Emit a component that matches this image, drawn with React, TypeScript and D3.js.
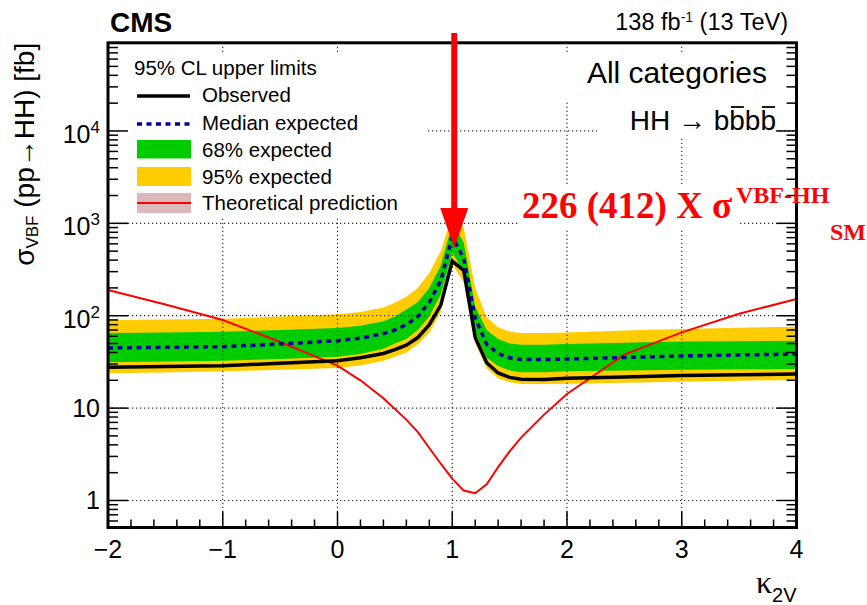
import React from "react";
import * as d3 from "d3";

// kappa_2V scan points
const kappa = [-2, -1.5, -1, -0.5, 0, 0.2, 0.4, 0.5, 0.6, 0.7, 0.8, 0.9, 1.0, 1.1, 1.2, 1.3, 1.4, 1.5, 1.6, 1.8, 2.0, 2.5, 3.0, 3.5, 4.0];

// SM VBF HH cross section [fb] and the limits at kappa_2V = 1 in units of it
const SIGMA_SM = 1.726;
const OBS_MULT = 226;
const EXP_MULT = 412;

const observed = [27.6, 28.2, 28.8, 30.5, 32.6, 35, 39, 43, 48, 58, 80, 130, OBS_MULT * SIGMA_SM, 310, 58, 31, 24, 21.5, 20.5, 20.4, 21, 21.7, 22.5, 23, 23.4];
const expected = [44.8, 45.5, 46.2, 49.4, 53.7, 57, 64, 70, 80, 98, 140, 240, EXP_MULT * SIGMA_SM, 420, 95, 49, 39, 35, 33.5, 33.5, 34, 35.3, 36.7, 37.6, 38.5];
const band68Lo = [31.3, 32, 32.5, 34, 36, 38.5, 44, 50, 56, 70, 98, 170, 480, 300, 66, 35, 28.5, 25.5, 24.5, 24.5, 25, 25.5, 26, 26.3, 26.5];
const band68Hi = [65, 66, 67, 70, 73.6, 78, 87, 98, 117, 140, 200, 350, 1000, 620, 125, 70, 56, 50, 48.5, 48.5, 49.4, 51, 52.5, 53, 53.7];
const band95Lo = [23.8, 24.3, 25, 26, 27.2, 29, 32.5, 36, 40, 49, 66, 110, 360, 230, 50, 27, 21, 19, 18.2, 18.2, 18.3, 18.8, 19.3, 19.8, 20.2];
const band95Hi = [89.8, 91, 93, 98, 104, 110, 123, 138, 160, 200, 290, 500, 1250, 900, 200, 96, 75, 67, 65, 65, 66, 69, 72, 74, 76];
const theory = [190, 132, 90, 52, 28.8, 20, 12.8, 9.8, 7.5, 5.5, 3.7, 2.5, SIGMA_SM, 1.28, 1.2, 1.5, 2.3, 3.4, 4.8, 8.5, 14.2, 38, 66, 105, 152];

const xTicks = [-2, -1, 0, 1, 2, 3, 4];
const xTickLabels = ["\u22122", "\u22121", "0", "1", "2", "3", "4"];
const yDecades = [1, 10, 100, 1000, 10000];
const yTickBase = ["1", "10", "10", "10", "10"];
const yTickExp = ["", "", "2", "3", "4"];

const legendTitle = "95% CL upper limits";
const legendLabels = ["Observed", "Median expected", "68% expected", "95% expected", "Theoretical prediction"];

const GREEN = "#00cc00";
const YELLOW = "#ffcc00";
const BLUE = "#000099";
const RED = "#ff0000";
const SANS = "'Liberation Sans', Arial, Helvetica, sans-serif";
const SERIF = "'Liberation Serif', 'Times New Roman', serif";

export default function App() {
  const W = 867;
  const H = 605;
  const L = 108, R = 796.5, T = 42.8, B = 527.5;

  const x = d3.scaleLinear().domain([-2, 4]).range([L, R]);
  const y = d3.scaleLog().domain([0.51, 9e4]).range([B, T]);

  const idx = kappa.map((_, i) => i);
  const area = (lo: number[], hi: number[]) =>
    d3.area<number>().x((i) => x(kappa[i])).y0((i) => y(lo[i])).y1((i) => y(hi[i]))(idx) || "";
  const line = (v: number[]) => d3.line<number>().x((i) => x(kappa[i])).y((i) => y(v[i]))(idx) || "";

  // minor ticks
  const xMinor: number[] = [];
  for (let k = -20; k <= 40; k += 2) {
    if (k % 10 !== 0) xMinor.push(k / 10);
  }
  const yMinor: number[] = [];
  for (let e = -1; e <= 4; e++) {
    for (let m = 2; m <= 9; m++) {
      const v = m * Math.pow(10, e);
      if (v > 0.51 && v < 9e4) yMinor.push(v);
    }
  }

  const gridStyle = { stroke: "#333", strokeWidth: 1.2, strokeDasharray: "1.3,2.7" };

  const legX0 = 137, legX1 = 191;
  const legRowY = [96, 124, 149, 176.5, 203];
  const legTextY = [102, 129.5, 156.5, 183.5, 210];

  const arrowX = x(1) + 2;

  // decay label: "HH → b b̄ b b̄", right aligned; bars over the 2nd and 4th b
  const hhSize = 28;
  const hhRight = 776;
  const bW = 0.556 * hhSize;
  const barXs = [hhRight - 3 * bW, hhRight - bW];

  return (
    <svg width={W} height={H} style={{ display: "block", position: "absolute", left: 0, top: 0 }}>
      <rect x={0} y={0} width={W} height={H} fill="#fff" />

      {/* uncertainty bands */}
      <path d={area(band95Lo, band95Hi)} fill={YELLOW} />
      <path d={area(band68Lo, band68Hi)} fill={GREEN} />

      {/* grid */}
      {xTicks.slice(1, -1).map((t) => (
        <line key={"gx" + t} x1={x(t)} x2={x(t)} y1={T} y2={B} {...gridStyle} />
      ))}
      {yDecades.map((t) => (
        <line key={"gy" + t} x1={L} x2={R} y1={y(t)} y2={y(t)} {...gridStyle} />
      ))}

      {/* curves */}
      <path d={line(theory)} fill="none" stroke={RED} strokeWidth={2} />
      <path d={line(observed)} fill="none" stroke="#000" strokeWidth={3.5} strokeLinejoin="miter" />
      <path d={line(expected)} fill="none" stroke={BLUE} strokeWidth={3.5} strokeDasharray="5,4.5" />

      {/* text boxes */}
      <rect x={L + 2} y={53} width={427 - L - 2} height={163} fill="#fff" />
      <rect x={540} y={53} width={236} height={48} fill="#fff" />
      <rect x={597} y={101} width={179} height={36} fill="#fff" />

      {/* legend */}
      <g fontFamily={SANS} fontSize={20.5} fill="#000">
        <text x={134} y={74.5}>{legendTitle}</text>
        <line x1={legX0} x2={legX1 - 1} y1={legRowY[0]} y2={legRowY[0]} stroke="#000" strokeWidth={3.5} />
        <line x1={legX0} x2={legX1 - 1} y1={legRowY[1]} y2={legRowY[1]} stroke={BLUE} strokeWidth={3.5} strokeDasharray="5,4.5" />
        <rect x={legX0} y={140} width={legX1 - legX0} height={18.5} fill={GREEN} />
        <rect x={legX0} y={167} width={legX1 - legX0} height={19} fill={YELLOW} />
        <rect x={legX0} y={193} width={legX1 - legX0} height={20} fill="#dcb8bc" />
        <line x1={legX0} x2={legX1} y1={legRowY[4]} y2={legRowY[4]} stroke={RED} strokeWidth={2} />
        {legendLabels.map((s, i) => (
          <text key={s} x={202} y={legTextY[i]}>{s}</text>
        ))}
      </g>

      {/* region labels */}
      <text x={767} y={83} textAnchor="end" fontFamily={SANS} fontSize={30}>All categories</text>
      <text x={hhRight} y={130} textAnchor="end" fontFamily={SANS} fontSize={hhSize}>
        {"HH \u2192 bbbb"}
      </text>
      {barXs.map((bx) => (
        <line key={"bar" + bx} x1={bx + 1.5} x2={bx + bW - 1} y1={107} y2={107} stroke="#000" strokeWidth={1.8} />
      ))}

      {/* frame */}
      <rect x={L} y={T} width={R - L} height={B - T} fill="none" stroke="#000" strokeWidth={3} />

      {/* x ticks */}
      {xTicks.map((t) => (
        <line key={"xt" + t} x1={x(t)} x2={x(t)} y1={B} y2={B - 16} stroke="#000" strokeWidth={1.5} />
      ))}
      {xMinor.map((t) => (
        <line key={"xm" + t} x1={x(t)} x2={x(t)} y1={B} y2={B - 8} stroke="#000" strokeWidth={1.5} />
      ))}
      {/* y ticks, both sides */}
      {yDecades.map((t) => (
        <g key={"yt" + t}>
          <line x1={L} x2={L + 20} y1={y(t)} y2={y(t)} stroke="#000" strokeWidth={1.5} />
          <line x1={R} x2={R - 20} y1={y(t)} y2={y(t)} stroke="#000" strokeWidth={1.5} />
        </g>
      ))}
      {yMinor.map((t) => (
        <g key={"ym" + t}>
          <line x1={L} x2={L + 10} y1={y(t)} y2={y(t)} stroke="#000" strokeWidth={1.5} />
          <line x1={R} x2={R - 10} y1={y(t)} y2={y(t)} stroke="#000" strokeWidth={1.5} />
        </g>
      ))}

      {/* tick labels */}
      <g fontFamily={SANS} fontSize={25} fill="#000">
        {xTicks.map((t, i) => (
          <text key={"xl" + t} x={x(t)} y={558} textAnchor="middle">{xTickLabels[i]}</text>
        ))}
        {yDecades.map((t, i) => (
          <text key={"yl" + t} x={100} y={y(t) + (yTickExp[i] ? 12 : 9)} textAnchor="end">
            {yTickBase[i]}
            {yTickExp[i] ? <tspan dy={-10} fontSize={17}>{yTickExp[i]}</tspan> : null}
          </text>
        ))}
      </g>

      {/* axis titles */}
      <text transform={`translate(34, ${T}) rotate(-90)`} textAnchor="end" fontFamily={SANS} fontSize={28}>
        {"\u03c3"}
        <tspan dy={4} fontSize={17}>VBF</tspan>
        <tspan dy={-4}>{" (pp\u2192HH) [fb]"}</tspan>
      </text>
      <text x={R} y={593} textAnchor="end" fontFamily={SANS} fontSize={20}>
        <tspan fontFamily={SERIF} fontSize={32}>{"\u03ba"}</tspan>
        <tspan dy={9}>2V</tspan>
      </text>

      {/* header */}
      <text x={110} y={32} fontFamily={SANS} fontWeight="bold" fontSize={28}>CMS</text>
      <text x={788} y={30} textAnchor="end" fontFamily={SANS} fontSize={23.5}>
        138 fb<tspan dy={-8} fontSize={14}>-1</tspan>
        <tspan dy={8}>{" (13 TeV)"}</tspan>
      </text>

      {/* annotation at kappa_2V = 1 */}
      <line x1={arrowX} x2={arrowX} y1={33} y2={212} stroke={RED} strokeWidth={6} />
      <path d={`M${arrowX - 14},208 L${arrowX + 14},208 L${arrowX},248 Z`} fill={RED} />
      <rect x={520} y={186} width={218} height={43} fill="#fff" />
      <g fontFamily={SERIF} fontWeight="bold" fill={RED}>
        <text x={522} y={218} fontSize={37}>{`${OBS_MULT} (${EXP_MULT}) X \u03c3`}</text>
        <text x={736} y={203} fontSize={24}>VBF-HH</text>
        <text x={830} y={240} fontSize={24}>SM</text>
      </g>
    </svg>
  );
}
